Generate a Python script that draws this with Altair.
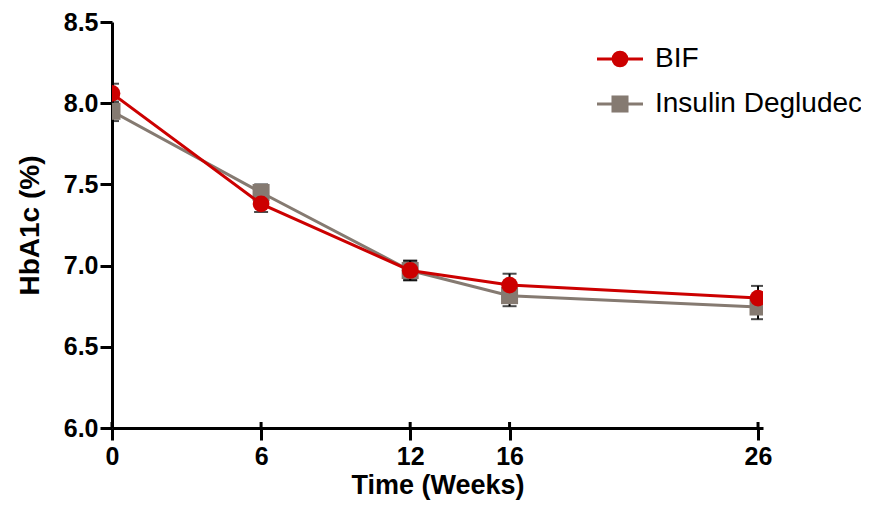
import altair as alt
import pandas as pd

weeks = [0, 6, 12, 16, 26]
bif_mean = [8.06, 7.38, 6.97, 6.88, 6.80]
bif_se = [0.06, 0.05, 0.06, 0.07, 0.075]
deg_mean = [7.95, 7.45, 6.97, 6.815, 6.745]
deg_se = [0.06, 0.05, 0.06, 0.065, 0.075]
series_names = ["BIF", "Insulin Degludec"]
colors = ["#CC0000", "#857A71"]
y_ticks = [6.0, 6.5, 7.0, 7.5, 8.0, 8.5]

W, H = 651, 406

rows = []
for name, means, ses in [(series_names[0], bif_mean, bif_se), (series_names[1], deg_mean, deg_se)]:
    for w, m, s in zip(weeks, means, ses):
        rows.append({"series": name, "week": w, "mean": m, "lo": m - s, "hi": m + s})
df = pd.DataFrame(rows)
df_bif = df[df.series == series_names[0]]
df_deg = df[df.series == series_names[1]]

FONT = "Liberation Sans"

xscale = alt.Scale(domain=[0, 26.2], nice=False, zero=False)
yscale = alt.Scale(domain=[6.0, 8.5], nice=False, zero=False)

xaxis = alt.Axis(values=weeks, title="Time (Weeks)", format="d", labelPadding=4, titlePadding=3,
                 labelFlush=False, grid=False, titleFontSize=27)
yaxis = alt.Axis(values=y_ticks, title="HbA1c (%)", format=".1f", labelPadding=2, titlePadding=19,
                 grid=False)

X = alt.X("week:Q", scale=xscale, axis=xaxis)
Xn = alt.X("week:Q", scale=xscale)

err = alt.Chart(df).mark_rule(color="black", strokeWidth=2, clip=True).encode(
    x=X, y=alt.Y("lo:Q", scale=yscale, axis=yaxis), y2="hi:Q")
cap_hi = alt.Chart(df).mark_tick(color="black", orient="horizontal", size=14, thickness=2, clip=True).encode(
    x=Xn, y=alt.Y("hi:Q", scale=yscale))
cap_lo = alt.Chart(df).mark_tick(color="black", orient="horizontal", size=14, thickness=2, clip=True).encode(
    x=Xn, y=alt.Y("lo:Q", scale=yscale))

def series_layers(d, color, shape, size):
    line = alt.Chart(d).mark_line(color=color, strokeWidth=3, clip=True).encode(
        x=Xn, y=alt.Y("mean:Q", scale=yscale))
    pts = alt.Chart(d).mark_point(color=color, filled=True, opacity=1, shape=shape, size=size, clip=True).encode(
        x=Xn, y=alt.Y("mean:Q", scale=yscale))
    return [line, pts]

deg_layers = series_layers(df_deg, colors[1], "square", 290)
bif_layers = series_layers(df_bif, colors[0], "circle", 280)

# inner half of crossing x ticks
tick_df = pd.DataFrame({"week": weeks})
xticks_in = alt.Chart(tick_df).mark_rule(color="black", strokeWidth=3).encode(
    x=Xn, y=alt.value(H), y2=alt.value(H - 6))

# legend
leg_layers = []
leg_y = [37, 82]
for i, (name, color, shape, size) in enumerate(zip(series_names, colors, ["circle", "square"], [280, 290])):
    ld = pd.DataFrame({"label": [name]})
    leg_layers.append(alt.Chart(ld).mark_rule(color=color, strokeWidth=3).encode(
        x=alt.value(485), x2=alt.value(531), y=alt.value(leg_y[i])))
    leg_layers.append(alt.Chart(ld).mark_point(color=color, filled=True, opacity=1, shape=shape, size=size).encode(
        x=alt.value(508), y=alt.value(leg_y[i])))
    leg_layers.append(alt.Chart(ld).mark_text(align="left", baseline="middle", font=FONT, fontSize=28,
                                              color="black").encode(
        x=alt.value(543), y=alt.value(leg_y[i]), text="label:N"))

chart = alt.layer(err, cap_hi, cap_lo, *deg_layers, *bif_layers, xticks_in, *leg_layers).properties(
    width=W, height=H,
    autosize=alt.AutoSizeParams(type="none"),
    padding={"left": 104, "top": 14, "right": 853 - 104 - W, "bottom": 492 - 14 - H},
).configure_view(stroke=None).configure_axis(
    domainColor="black", domainWidth=3, tickColor="black", tickWidth=3, tickSize=12,
    labelFont=FONT, labelFontSize=25, labelFontWeight="bold", labelColor="black",
    titleFont=FONT, titleFontSize=28, titleFontWeight="bold", titleColor="black",
)

chart.save("out.html", embed_options={"renderer": "svg", "actions": False})
